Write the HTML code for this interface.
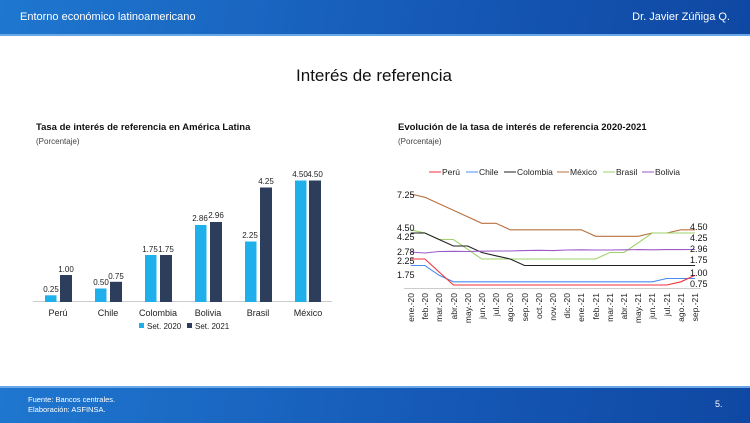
<!DOCTYPE html>
<html><head><meta charset="utf-8"><style>
body{margin:0;width:750px;height:421px;overflow:hidden;background:#fff;font-family:"Liberation Sans",sans-serif;position:relative}
.hdr{position:absolute;left:0;top:0;width:750px;height:34px;background:linear-gradient(100deg,#1f77cf,#1558b5 60%,#0f48a3);border-bottom:2px solid #6aa7e6}
.ftr{position:absolute;left:0;top:386px;width:750px;height:35px;background:linear-gradient(100deg,#1f77cf,#1558b5 60%,#0f48a3);border-top:2px solid #6aa7e6}
.t{position:absolute;color:#fff;white-space:nowrap}
</style></head><body>
<div class="hdr"></div>
<div class="t" style="left:20px;top:11px;font-size:11px">Entorno económico latinoamericano</div>
<div class="t" style="right:20px;top:11px;font-size:11px">Dr. Javier Zúñiga Q.</div>
<div class="ftr"></div>
<div class="t" style="left:28px;top:395px;font-size:7.5px;line-height:10px">Fuente: Bancos centrales.<br>Elaboración: ASFINSA.</div>
<div class="t" style="left:715px;top:399px;font-size:9px">5.</div>
<svg width="750" height="421" style="position:absolute;left:0;top:0" font-family="Liberation Sans, sans-serif">
<text x="374" y="81" font-size="17" text-anchor="middle" fill="#111">Interés de referencia</text>
<text x="36" y="130" font-size="9.5" font-weight="bold" fill="#111">Tasa de interés de referencia en América Latina</text>
<text x="36" y="144" font-size="8" fill="#444">(Porcentaje)</text>
<text x="398" y="130" font-size="9.5" font-weight="bold" fill="#111">Evolución de la tasa de interés de referencia 2020-2021</text>
<text x="398" y="144" font-size="8" fill="#444">(Porcentaje)</text>
<g font-size="8" fill="#222" text-anchor="middle">
<line x1="33" y1="301.5" x2="332" y2="301.5" stroke="#ccc"/>
<rect x="45" y="295.3" width="11.5" height="6.7" fill="#1fb0ec"/><rect x="60" y="275" width="12" height="27" fill="#2c3e5c"/>
<text x="51" y="292">0.25</text><text x="66" y="272">1.00</text>
<rect x="95" y="288.5" width="11.5" height="13.5" fill="#1fb0ec"/><rect x="110" y="281.8" width="12" height="20.2" fill="#2c3e5c"/>
<text x="101" y="285">0.50</text><text x="116" y="279">0.75</text>
<rect x="145" y="255" width="11.5" height="47" fill="#1fb0ec"/><rect x="160" y="255" width="12" height="47" fill="#2c3e5c"/>
<text x="150" y="252">1.75</text><text x="166" y="252">1.75</text>
<rect x="195" y="225" width="11.5" height="77" fill="#1fb0ec"/><rect x="210" y="222" width="12" height="80" fill="#2c3e5c"/>
<text x="200" y="221">2.86</text><text x="216" y="218">2.96</text>
<rect x="245" y="241.5" width="11.5" height="60.5" fill="#1fb0ec"/><rect x="260" y="187.5" width="12" height="114.5" fill="#2c3e5c"/>
<text x="250" y="238">2.25</text><text x="266" y="184">4.25</text>
<rect x="295" y="180.5" width="11.5" height="121.5" fill="#1fb0ec"/><rect x="309" y="180.5" width="12" height="121.5" fill="#2c3e5c"/>
<text x="300" y="177">4.50</text><text x="315" y="177">4.50</text>
<g font-size="9"><text x="58" y="316">Perú</text><text x="108" y="316">Chile</text><text x="158" y="316">Colombia</text><text x="208" y="316">Bolivia</text><text x="258" y="316">Brasil</text><text x="308" y="316">México</text></g>
<rect x="139" y="323" width="5" height="5" fill="#1fb0ec"/><text x="147" y="329" text-anchor="start">Set. 2020</text>
<rect x="187" y="323" width="5" height="5" fill="#2c3e5c"/><text x="195" y="329" text-anchor="start">Set. 2021</text>
</g>
<g font-size="8.5" fill="#222">
<line x1="429" y1="172" x2="441" y2="172" stroke="#f0303a"/><text x="442" y="175">Perú</text>
<line x1="466" y1="172" x2="478" y2="172" stroke="#4a8cf0"/><text x="479" y="175">Chile</text>
<line x1="504" y1="172" x2="516" y2="172" stroke="#222"/><text x="517" y="175">Colombia</text>
<line x1="557" y1="172" x2="569" y2="172" stroke="#b8703f"/><text x="570" y="175">México</text>
<line x1="603" y1="172" x2="615" y2="172" stroke="#9ed26a"/><text x="616" y="175">Brasil</text>
<line x1="642" y1="172" x2="654" y2="172" stroke="#9b59c9"/><text x="655" y="175">Bolivia</text>
</g>
<line x1="404" y1="288.5" x2="701" y2="288.5" stroke="#ccc"/>
<g fill="none" stroke-width="1.1">
<polyline stroke="#b8703f" points="410.7,194 424.9,197.3 439.1,203.8 453.4,210.3 467.6,216.8 481.8,223.3 496,223.3 510.2,229.8 524.5,229.8 538.7,229.8 552.9,229.8 567.1,229.8 581.3,229.8 595.6,236.3 609.8,236.3 624,236.3 638.2,236.3 652.4,233 666.7,233 680.9,229.8 695.1,229.8"/>
<polyline stroke="#9ed26a" points="410.7,229.8 424.9,233 439.1,239.5 453.4,239.5 467.6,249.3 481.8,259 496,259 510.2,259 524.5,259 538.7,259 552.9,259 567.1,259 581.3,259 595.6,259 609.8,252.5 624,252.5 638.2,242.8 652.4,233 666.7,233 680.9,233 695.1,233"/>
<polyline stroke="#222" points="410.7,233 424.9,233 439.1,239.5 453.4,246 467.6,246 481.8,252.5 496,255.8 510.2,259 524.5,265.5 538.7,265.5 552.9,265.5 567.1,265.5 581.3,265.5 595.6,265.5 609.8,265.5 624,265.5 638.2,265.5 652.4,265.5 666.7,265.5 680.9,265.5 695.1,265.5"/>
<polyline stroke="#9b59c9" points="410.7,252 424.9,253 439.1,251.5 453.4,251.3 467.6,251.5 481.8,251.2 496,251 510.2,251 524.5,250.6 538.7,250.3 552.9,250.6 567.1,250 581.3,249.8 595.6,250 609.8,250 624,249.8 638.2,249.6 652.4,249.8 666.7,249.6 680.9,249.6 695.1,249.5"/>
<polyline stroke="#4a8cf0" points="410.7,265.5 424.9,265.5 439.1,275.3 453.4,281.8 467.6,281.8 481.8,281.8 496,281.8 510.2,281.8 524.5,281.8 538.7,281.8 552.9,281.8 567.1,281.8 581.3,281.8 595.6,281.8 609.8,281.8 624,281.8 638.2,281.8 652.4,281.8 666.7,278.5 680.9,278.5 695.1,278.5"/>
<polyline stroke="#f0303a" points="410.7,259 424.9,259 439.1,272 453.4,285 467.6,285 481.8,285 496,285 510.2,285 524.5,285 538.7,285 552.9,285 567.1,285 581.3,285 595.6,285 609.8,285 624,285 638.2,285 652.4,285 666.7,285 680.9,281.8 695.1,275.3"/>
</g>
<g font-size="9" fill="#111">
<text x="397" y="198">7.25</text><text x="397" y="231">4.50</text><text x="397" y="240">4.25</text><text x="397" y="255">2.78</text><text x="397" y="264">2.25</text><text x="397" y="278">1.75</text>
<text x="690" y="230">4.50</text><text x="690" y="241">4.25</text><text x="690" y="252">2.96</text><text x="690" y="263">1.75</text><text x="690" y="276">1.00</text><text x="690" y="287">0.75</text>
</g>
<g font-size="8.5" fill="#222" text-anchor="end">
<text transform="translate(414,293) rotate(-90)">ene.-20</text><text transform="translate(428,293) rotate(-90)">feb.-20</text><text transform="translate(442,293) rotate(-90)">mar.-20</text><text transform="translate(457,293) rotate(-90)">abr.-20</text><text transform="translate(471,293) rotate(-90)">may.-20</text><text transform="translate(485,293) rotate(-90)">jun.-20</text><text transform="translate(499,293) rotate(-90)">jul.-20</text><text transform="translate(513,293) rotate(-90)">ago.-20</text><text transform="translate(528,293) rotate(-90)">sep.-20</text><text transform="translate(542,293) rotate(-90)">oct.-20</text><text transform="translate(556,293) rotate(-90)">nov.-20</text><text transform="translate(570,293) rotate(-90)">dic.-20</text><text transform="translate(584,293) rotate(-90)">ene.-21</text><text transform="translate(599,293) rotate(-90)">feb.-21</text><text transform="translate(613,293) rotate(-90)">mar.-21</text><text transform="translate(627,293) rotate(-90)">abr.-21</text><text transform="translate(641,293) rotate(-90)">may.-21</text><text transform="translate(655,293) rotate(-90)">jun.-21</text><text transform="translate(670,293) rotate(-90)">jul.-21</text><text transform="translate(684,293) rotate(-90)">ago.-21</text><text transform="translate(698,293) rotate(-90)">sep.-21</text>
</g>
</svg>
</body></html>
